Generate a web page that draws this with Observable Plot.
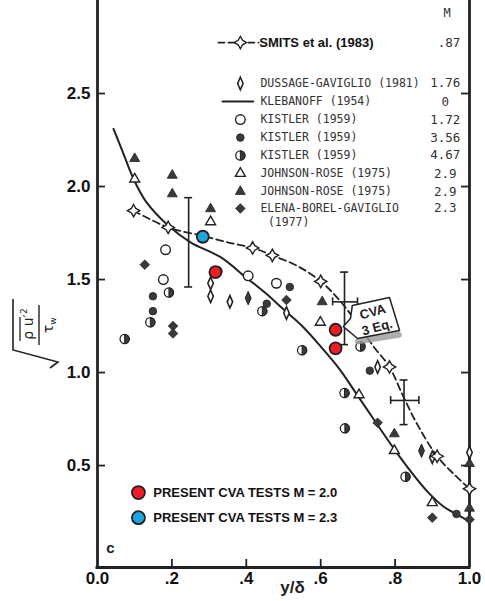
<!DOCTYPE html>
<html><head><meta charset="utf-8">
<script src="https://cdn.jsdelivr.net/npm/d3@7"></script>
<script src="https://cdn.jsdelivr.net/npm/@observablehq/plot@0.6"></script>
<style>
body{margin:0;background:#fff;}
#chart{width:485px;height:601px;}
</style></head><body><div id="chart"></div>
<script>
// ---------- data ----------
const xTicks = [0, 0.2, 0.4, 0.6, 0.8, 1.0];
const xTickLabels = ["0.0", ".2", ".4", ".6", ".8", "1.0"];
const yTicks = [0.5, 1.0, 1.5, 2.0, 2.5];
const yTickLabels = ["0.5", "1.0", "1.5", "2.0", "2.5"];

const klebanoffCurve = [[0.043,2.31],[0.067,2.19],[0.097,2.04],[0.13,1.92],[0.19,1.79],[0.25,1.70],[0.331,1.62],[0.40,1.51],[0.45,1.43],[0.50,1.34],[0.55,1.25],[0.60,1.14],[0.65,1.02],[0.698,0.88],[0.742,0.75],[0.815,0.54],[0.887,0.36],[0.93,0.28],[0.968,0.235],[1.0,0.20]];
const smitsCurve = [[0.097,1.87],[0.19,1.78],[0.283,1.735],[0.35,1.70],[0.417,1.67],[0.47,1.63],[0.54,1.57],[0.60,1.49],[0.65,1.39],[0.70,1.26],[0.742,1.14],[0.785,1.03],[0.82,0.88],[0.86,0.72],[0.913,0.55],[0.96,0.45],[1.0,0.375]];
const smitsPoints = [[0.097,1.87],[0.19,1.78],[0.417,1.67],[0.47,1.63],[0.60,1.49],[0.785,1.03],[0.913,0.55],[1.0,0.375]];
const dussage = [[0.304,1.48],[0.304,1.41],[0.356,1.38],[0.508,1.32],[0.753,1.03],[0.90,0.545],[1.0,0.57]];
const darkLozenges = [[0.405,1.40],[0.871,0.58]];
const kistlerOpen = [[0.183,1.66],[0.177,1.50],[0.405,1.52],[0.481,1.48]];
const kistlerFilled = [[0.149,1.41],[0.149,1.33],[0.517,1.46],[0.455,1.37],[0.732,1.01],[0.965,0.24]];
const kistlerHalf = [[0.073,1.18],[0.142,1.27],[0.192,1.43],[0.322,1.545],[0.443,1.33],[0.550,1.12],[0.707,1.14],[0.664,0.89],[0.665,0.70],[0.828,0.44]];
const johnsonOpen = [[0.100,2.04],[0.304,1.81],[0.599,1.27],[0.703,0.88],[0.798,0.58],[0.90,0.30]];
const johnsonFilled = [[0.100,2.15],[0.201,2.06],[0.201,1.96],[0.304,1.88],[0.604,1.38],[0.798,0.67],[1.0,0.51],[1.0,0.27]];
const elena = [[0.127,1.58],[0.203,1.25],[0.203,1.21],[0.508,1.39],[0.753,0.73],[0.90,0.22],[1.0,0.21]];
const cvaM20 = [[0.317,1.54],[0.640,1.23],[0.640,1.13]];
const cvaM23 = [[0.283,1.73]];
const errorBars = [
  {x:0.245, lo:1.46, hi:1.94},
  {x:0.664, lo:1.15, hi:1.54, y:1.38, xlo:0.632, xhi:0.699},
  {x:0.824, lo:0.72, hi:0.96, y:0.85, xlo:0.788, xhi:0.864}
];

const legendLabels = ["DUSSAGE-GAVIGLIO (1981)","KLEBANOFF (1954)","KISTLER (1959)","KISTLER (1959)","KISTLER (1959)","JOHNSON-ROSE (1975)","JOHNSON-ROSE (1975)","ELENA-BOREL-GAVIGLIO"];
const legendMach = ["1.76","0","1.72","3.56","4.67","2.9","2.9","2.3"];
const smitsLabel = "SMITS et al. (1983)";
const smitsMach = ".87";
const cvaLabels = ["PRESENT CVA TESTS M = 2.0","PRESENT CVA TESTS M = 2.3"];
const calloutText = ["CVA","3 Eq."];

// ---------- layout (annotation positions in data units) ----------
const legRowY = [2.554,2.457,2.360,2.263,2.167,2.070,1.973,1.882];
const legSymX = 0.384, legTextX = 0.438, legMachX = 0.935;
const smitsRowY = 2.774, headerY = 2.93;
const cvaLegY = [0.355, 0.220], cvaLegX = 0.110, cvaTextX = 0.150;
const calloutBox = [[0.661,1.247],[0.699,1.183],[0.812,1.226],[0.785,1.403],[0.685,1.360],[0.680,1.290],[0.661,1.247]];
const calloutShadow = [[0.700,1.168],[0.810,1.203]];
const calloutTextPos = [[0.740,1.325],[0.752,1.243]];

// ---------- symbols ----------
const lozenge = {draw(c, s){const r=Math.sqrt(s/Math.PI); c.moveTo(0,-1.6*r); c.lineTo(0.7*r,0); c.lineTo(0,1.6*r); c.lineTo(-0.7*r,0); c.closePath();}};
const halfRight = {draw(c, s){const r=Math.sqrt(s/Math.PI); c.moveTo(0,-r); c.arc(0,0,r,-Math.PI/2,Math.PI/2); c.closePath();}};
const starDiamond = {draw(c, s){const r=Math.sqrt(s/Math.PI)*1.35, a=0.36*r;
  c.moveTo(0,-r); c.lineTo(a,-a); c.lineTo(r,0); c.lineTo(a,a); c.lineTo(0,r); c.lineTo(-a,a); c.lineTo(-r,0); c.lineTo(-a,-a); c.closePath();}};

const ink = "#222", dark = "#3a3a3a";
const xPx = 1/372, yPx = 1/186;
const yMin = -0.048;
const triR = 3.7, diaR = 4.3, lozR = 3.9;

const halfDots = (data, opts={}) => [
  Plot.dot(data, {x:d=>d[0], y:d=>d[1], r:4.6, fill:"white", stroke:ink, strokeWidth:1.3, ...opts}),
  Plot.dot(data, {x:d=>d[0], y:d=>d[1], r:4.6, symbol:halfRight, fill:dark, stroke:ink, strokeWidth:1, ...opts})
];

const mono = "DejaVu Sans Mono, monospace";
const arial = "Liberation Sans, Arial, sans-serif";

const marks = [
  // frame
  Plot.ruleX([0], {stroke:ink, strokeWidth:2.8}),
  Plot.ruleX([1], {stroke:ink, strokeWidth:2.8}),
  Plot.ruleY([yMin], {stroke:ink, strokeWidth:2.8, x1:-0.004, x2:1.004}),
  // inward ticks
  Plot.ruleY(yTicks, {y:d=>d, x1:0, x2:8*xPx, stroke:ink, strokeWidth:1.8}),
  Plot.ruleY(yTicks, {y:d=>d, x1:1-8*xPx, x2:1, stroke:ink, strokeWidth:1.8}),
  Plot.ruleX(xTicks.slice(1,-1), {x:d=>d, y1:yMin, y2:yMin+8*yPx, stroke:ink, strokeWidth:1.8}),
  // tick labels
  Plot.text(yTicks, {x:0, y:d=>d, text:(d,i)=>yTickLabels[i], dx:-7, textAnchor:"end", fontSize:17, fontWeight:"bold", fontFamily:arial, fill:"#111"}),
  Plot.text(xTicks, {x:d=>d, y:yMin, text:(d,i)=>xTickLabels[i], dy:11, lineAnchor:"middle", fontSize:17, fontWeight:"bold", fontFamily:arial, fill:"#111"}),
  Plot.text(["y/δ"], {frameAnchor:"bottom", dx:9, dy:25, fontSize:17, fontWeight:"bold", fontFamily:arial, fill:"#222"}),
  Plot.text(["c"], {x:0.035, y:0.054, fontSize:15, fontWeight:"bold", fontFamily:arial, fill:ink}),

  // curves
  Plot.line(klebanoffCurve, {x:d=>d[0], y:d=>d[1], curve:"catmull-rom", stroke:ink, strokeWidth:2}),
  Plot.line(smitsCurve, {x:d=>d[0], y:d=>d[1], curve:"catmull-rom", stroke:ink, strokeWidth:1.8, strokeDasharray:"7,4"}),

  // data symbols
  Plot.dot(kistlerOpen, {x:d=>d[0], y:d=>d[1], r:4.8, fill:"white", stroke:ink, strokeWidth:1.4}),
  Plot.dot(kistlerFilled, {x:d=>d[0], y:d=>d[1], r:3.8, fill:dark, stroke:ink, strokeWidth:0.8}),
  ...halfDots(kistlerHalf),
  Plot.dot(johnsonOpen, {x:d=>d[0], y:d=>d[1], r:triR, symbol:"triangle", fill:"white", stroke:ink, strokeWidth:1.4}),
  Plot.dot(johnsonFilled, {x:d=>d[0], y:d=>d[1], r:triR, symbol:"triangle", fill:dark, stroke:ink, strokeWidth:0.8}),
  Plot.dot(elena, {x:d=>d[0], y:d=>d[1], r:diaR, symbol:"diamond2", fill:dark, stroke:ink, strokeWidth:0.8}),
  Plot.dot(dussage, {x:d=>d[0], y:d=>d[1], r:lozR, symbol:lozenge, fill:"white", stroke:ink, strokeWidth:1.6}),
  Plot.dot(darkLozenges, {x:d=>d[0], y:d=>d[1], r:4.2, symbol:lozenge, fill:dark, stroke:ink, strokeWidth:1}),
  Plot.dot(smitsPoints, {x:d=>d[0], y:d=>d[1], r:4.6, symbol:starDiamond, fill:"white", stroke:ink, strokeWidth:1.4}),

  // error bars
  Plot.ruleX(errorBars, {x:"x", y1:"lo", y2:"hi", stroke:ink, strokeWidth:1.6}),
  Plot.ruleY(errorBars, {y:"lo", x1:d=>d.x-4*xPx, x2:d=>d.x+4*xPx, stroke:ink, strokeWidth:1.6}),
  Plot.ruleY(errorBars, {y:"hi", x1:d=>d.x-4*xPx, x2:d=>d.x+4*xPx, stroke:ink, strokeWidth:1.6}),
  Plot.ruleY(errorBars.filter(d=>d.y!=null), {y:"y", x1:"xlo", x2:"xhi", stroke:ink, strokeWidth:1.6}),
  Plot.ruleX(errorBars.filter(d=>d.y!=null), {x:"xlo", y1:d=>d.y-4*yPx, y2:d=>d.y+4*yPx, stroke:ink, strokeWidth:1.6}),
  Plot.ruleX(errorBars.filter(d=>d.y!=null), {x:"xhi", y1:d=>d.y-4*yPx, y2:d=>d.y+4*yPx, stroke:ink, strokeWidth:1.6}),

  // callout
  Plot.line(calloutShadow, {x:d=>d[0], y:d=>d[1], stroke:"#9a9a9a", strokeWidth:6, strokeOpacity:0.8}),
  Plot.line(calloutBox, {x:d=>d[0], y:d=>d[1], fill:"white", stroke:ink, strokeWidth:1.5}),
  Plot.text(calloutText, {x:(d,i)=>calloutTextPos[i][0], y:(d,i)=>calloutTextPos[i][1], text:d=>d, rotate:-15, fontSize:13, fontWeight:"bold", fontFamily:arial, fill:ink}),

  // present CVA tests
  Plot.dot(cvaM20, {x:d=>d[0], y:d=>d[1], r:6, fill:"#ee1c24", stroke:ink, strokeWidth:1.8}),
  Plot.dot(cvaM23, {x:d=>d[0], y:d=>d[1], r:6, fill:"#1ea5df", stroke:ink, strokeWidth:1.8}),

  // top legend
  Plot.text(["M"], {x:legMachX+0.005, y:headerY, fontSize:12, fontFamily:mono, fill:"#333"}),
  Plot.line([[legSymX-0.059, smitsRowY],[legSymX+0.049, smitsRowY]], {x:d=>d[0], y:d=>d[1], stroke:ink, strokeWidth:1.8, strokeDasharray:"6,4"}),
  Plot.dot([[legSymX, smitsRowY]], {x:d=>d[0], y:d=>d[1], r:4.6, symbol:starDiamond, fill:"white", stroke:ink, strokeWidth:1.4}),
  Plot.text([smitsLabel], {x:legTextX-0.003, y:smitsRowY, textAnchor:"start", fontSize:13, fontWeight:"bold", fontFamily:arial, fill:"#111"}),
  Plot.text([smitsMach], {x:legMachX+0.01, y:smitsRowY, fontSize:12.5, fontFamily:mono, fill:"#333"}),
  Plot.text(legendLabels, {x:legTextX, y:(d,i)=>legRowY[i], text:d=>d, textAnchor:"start", fontSize:11.5, fontFamily:mono, fill:"#333"}),
  Plot.text(["(1977)"], {x:legTextX+0.02, y:legRowY[7]-0.075, textAnchor:"start", fontSize:11.5, fontFamily:mono, fill:"#333"}),
  Plot.text(legendMach, {x:legMachX, y:(d,i)=>legRowY[i], text:d=>d, fontSize:12.5, fontFamily:mono, fill:"#333"}),
  Plot.line([[legSymX-0.048, legRowY[1]],[legSymX+0.035, legRowY[1]]], {x:d=>d[0], y:d=>d[1], stroke:ink, strokeWidth:1.8}),
  Plot.dot([[legSymX, legRowY[0]]], {x:d=>d[0], y:d=>d[1], r:lozR, symbol:lozenge, fill:"white", stroke:ink, strokeWidth:1.6}),
  Plot.dot([[legSymX, legRowY[2]]], {x:d=>d[0], y:d=>d[1], r:4.8, fill:"white", stroke:ink, strokeWidth:1.4}),
  Plot.dot([[legSymX, legRowY[3]]], {x:d=>d[0], y:d=>d[1], r:3.8, fill:dark, stroke:ink, strokeWidth:0.8}),
  ...halfDots([[legSymX, legRowY[4]]]),
  Plot.dot([[legSymX, legRowY[5]]], {x:d=>d[0], y:d=>d[1], r:triR, symbol:"triangle", fill:"white", stroke:ink, strokeWidth:1.4}),
  Plot.dot([[legSymX, legRowY[6]]], {x:d=>d[0], y:d=>d[1], r:triR, symbol:"triangle", fill:dark, stroke:ink, strokeWidth:0.8}),
  Plot.dot([[legSymX, legRowY[7]]], {x:d=>d[0], y:d=>d[1], r:diaR, symbol:"diamond2", fill:dark, stroke:ink, strokeWidth:0.8}),

  // bottom legend
  Plot.dot(cvaLegY, {x:cvaLegX, y:d=>d, r:6.5, fill:(d,i)=>["#ee1c24","#1ea5df"][i], stroke:ink, strokeWidth:1.8}),
  Plot.text(cvaLabels, {x:cvaTextX, y:(d,i)=>cvaLegY[i], text:d=>d, textAnchor:"start", fontSize:13, fontWeight:"bold", fontFamily:arial, fill:"#111"})
];

const chart = Plot.plot({
  width:485, height:601,
  marginLeft:97, marginRight:16, marginTop:0, marginBottom:34,
  x:{domain:[0,1], axis:null},
  y:{domain:[yMin,3.0], axis:null},
  style:{background:"white", fontFamily:arial, overflow:"visible"},
  marks
});
document.getElementById("chart").appendChild(chart);

// y-axis label: sqrt( rho u'^2 / tau_w ), rotated
const svg = d3.select(chart);
const g = svg.append("g").attr("transform","translate(38,335) rotate(-90)")
  .attr("font-family","DejaVu Sans, sans-serif").attr("fill",ink);
g.append("path").attr("d","M-33,12 L-27,20 L-15,-25 L36,-25").attr("fill","none").attr("stroke",ink).attr("stroke-width",1.6);
g.append("line").attr("x1",-6).attr("x2",18).attr("y1",-18).attr("y2",-18).attr("stroke",ink).attr("stroke-width",1.3);
g.append("text").attr("x",8).attr("y",-5).attr("text-anchor","middle").attr("font-size",14).text("ρ u′");
g.append("text").attr("x",24).attr("y",-11).attr("text-anchor","middle").attr("font-size",9).text("2");
g.append("line").attr("x1",-10).attr("x2",30).attr("y1",1).attr("y2",1).attr("stroke",ink).attr("stroke-width",1.4);
g.append("text").attr("x",6).attr("y",15).attr("text-anchor","middle").attr("font-size",14).text("τ");
g.append("text").attr("x",14).attr("y",18).attr("text-anchor","middle").attr("font-size",9).text("w");
</script>
</body></html>
